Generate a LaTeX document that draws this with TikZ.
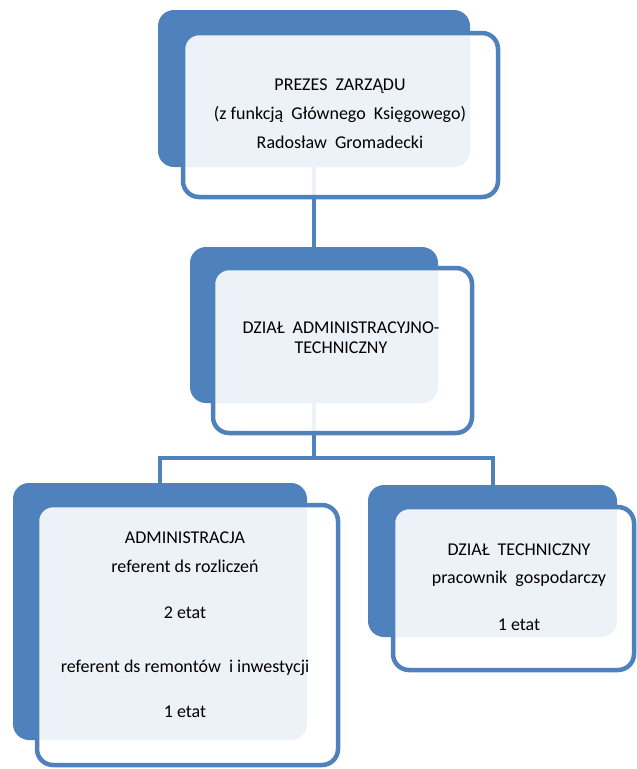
\documentclass[tikz,border=0pt]{standalone}
\usepackage{fontspec}
\setmainfont{Carlito}
\usetikzlibrary{backgrounds}
\definecolor{ofblue}{HTML}{4F81BD}
\begin{document}
\begin{tikzpicture}[x=1pt,y=-1pt,
  backbox/.style={fill=ofblue, draw=none, rounded corners=16pt, inner sep=0pt},
  frontbox/.style={draw=ofblue, line width=4.5pt, fill=white, fill opacity=0.9, rounded corners=16pt, inner sep=0pt},
  boxtext/.style={align=center, text=black, inner sep=0pt, font=\fontsize{18}{20}\selectfont},
  conn/.style={draw=ofblue, line width=4pt}]
\useasboundingbox (0,0) rectangle (637,769);
% box 1
\node[backbox, minimum width=312pt, minimum height=157pt] (b1) at (314,88.5) {};
\node[frontbox, minimum width=315pt, minimum height=164pt] (f1) at (340.5,115) {};
\node[boxtext] (t1) at (340,114) {PREZES\ \ ZARZĄDU\\[9pt](z funkcją\ \ Głównego\ \ Księgowego)\\[9pt]Radosław\ \ Gromadecki};
% box 2
\node[backbox, minimum width=248pt, minimum height=156pt] (b2) at (314,325) {};
\node[frontbox, minimum width=259pt, minimum height=165pt] (f2) at (342.5,350.5) {};
\node[boxtext] (t2) at (341,337.5) {DZIAŁ\ \ ADMINISTRACYJNO-\\TECHNICZNY};
% box 3
\node[backbox, minimum width=294pt, minimum height=257pt] (b3) at (160,611.5) {};
\node[frontbox, minimum width=301pt, minimum height=260pt] (f3) at (187.5,635) {};
\node[boxtext] (t3) at (185,625) {ADMINISTRACJA\\[9pt]referent ds rozliczeń\\[26pt]2 etat\\[34pt]referent ds remontów\ \ i inwestycji\\[25pt]1 etat};
% box 4
\node[backbox, minimum width=249pt, minimum height=152pt] (b4) at (492.5,561) {};
\node[frontbox, minimum width=241pt, minimum height=163pt] (f4) at (513.5,588.5) {};
\node[boxtext] (t4) at (519,587.5) {DZIAŁ\ \ TECHNICZNY\\[8pt]pracownik\ \ gospodarczy\\[27pt]1 etat};
% connectors
\begin{pgfonlayer}{background}
\coordinate (j) at (314,458);
\draw[conn] (b1.south) -- (b2.north);
\draw[conn] (b2.south) -- (j);
\draw[conn] (b3.north) |- (j) -| (b4.north);
\end{pgfonlayer}
\end{tikzpicture}
\end{document}
